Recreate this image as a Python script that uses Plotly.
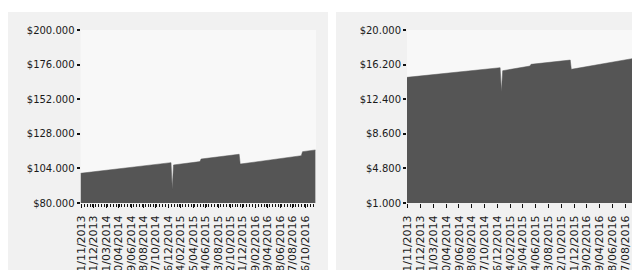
import plotly.graph_objects as go
from datetime import datetime

# ---- data ----
dates = ["2013-10-28", "2015-01-08", "2015-01-14", "2015-01-20", "2015-05-28",
         "2015-06-02", "2015-12-03", "2015-12-08", "2016-09-28", "2016-10-04",
         "2016-12-05"]
left_values = [100600, 108000, 89500, 106400, 108700, 110500, 113800, 107000,
               112800, 115600, 116800]
right_values = [14800, 15860, 13220, 15530, 16040, 16230, 16700, 15680,
                16890, 17250, 17700]

x_tick_labels = ["01/11/2013", "31/12/2013", "01/03/2014", "30/04/2014",
                 "29/06/2014", "28/08/2014", "27/10/2014", "26/12/2014",
                 "24/02/2015", "25/04/2015", "24/06/2015", "23/08/2015",
                 "22/10/2015", "21/12/2015", "19/02/2016", "19/04/2016",
                 "18/06/2016", "17/08/2016", "16/10/2016"]
left_y_ticks = [80000, 104000, 128000, 152000, 176000, 200000]
left_y_labels = ["$80.000", "$104.000", "$128.000", "$152.000", "$176.000", "$200.000"]
right_y_ticks = [1000, 4800, 8600, 12400, 16200, 20000]
right_y_labels = ["$1.000", "$4.800", "$8.600", "$12.400", "$16.200", "$20.000"]

x_tick_vals = [datetime.strptime(s, "%d/%m/%Y").strftime("%Y-%m-%d") for s in x_tick_labels]

W, H = 640, 270
OFF = 8  # page body margin
AREA = "#555555"
FONT = dict(family="DejaVu Sans", size=10, color="#1a1a1a")
XFONT = dict(family="DejaVu Sans", size=11, color="#1a1a1a")


def px_x(x):
    return (x - OFF) / W


def px_y(y):
    return (H - (y - OFF)) / H


fig = go.Figure()
fig.add_trace(go.Scatter(x=dates, y=left_values, mode="lines", fill="tozeroy",
                         line=dict(color=AREA, width=0.5), fillcolor=AREA,
                         hoverinfo="skip", xaxis="x", yaxis="y"))
fig.add_trace(go.Scatter(x=dates, y=right_values, mode="lines", fill="tozeroy",
                         line=dict(color=AREA, width=0.5), fillcolor=AREA,
                         hoverinfo="skip", xaxis="x2", yaxis="y2"))

ydom = [px_y(203), px_y(30)]
common_x = dict(type="date", tickmode="array", tickvals=x_tick_vals,
                ticktext=x_tick_labels, tickangle=-90, tickfont=XFONT,
                ticks="outside", ticklen=4, tickwidth=1, tickcolor="#111111",
                showgrid=False, zeroline=False, showline=False, fixedrange=True,
                automargin=False, ticklabelstandoff=3)
common_y = dict(tickmode="array", tickfont=FONT, ticks="outside", ticklen=3,
                tickwidth=1.5, tickcolor="#111111", showgrid=False,
                zeroline=False, showline=False, fixedrange=True,
                automargin=False)

fig.update_layout(
    width=W, height=H,
    margin=dict(l=0, r=0, t=0, b=0, autoexpand=False),
    paper_bgcolor="#ffffff",
    plot_bgcolor="#f8f8f8",
    showlegend=False,
    xaxis=dict(common_x, domain=[px_x(80.5), px_x(316)],
               range=["2013-10-28", "2016-12-08"], anchor="y",
               minor=dict(dtick=14 * 86400000, ticks="outside", ticklen=3,
                          tickcolor="#111111", tickwidth=1,
                          tick0="2013-11-01")),
    yaxis=dict(common_y, domain=ydom, range=[80000, 200000],
               tickvals=left_y_ticks, ticktext=left_y_labels, anchor="x"),
    xaxis2=dict(common_x, domain=[px_x(407), 1.0],
                range=["2013-10-28", "2016-12-02"], anchor="y2"),
    yaxis2=dict(common_y, domain=ydom, range=[1000, 20000],
                tickvals=right_y_ticks, ticktext=right_y_labels, anchor="x2"),
    shapes=[
        dict(type="rect", xref="paper", yref="paper", layer="below",
             x0=0, x1=px_x(328), y0=0, y1=px_y(12),
             fillcolor="#f1f1f1", line=dict(width=0)),
        dict(type="rect", xref="paper", yref="paper", layer="below",
             x0=px_x(336), x1=1, y0=0, y1=px_y(12),
             fillcolor="#f1f1f1", line=dict(width=0)),
        dict(type="rect", xref="paper", yref="paper", layer="below",
             x0=px_x(80.5), x1=px_x(316), y0=ydom[0], y1=ydom[1],
             fillcolor="#f8f8f8", line=dict(width=0)),
        dict(type="rect", xref="paper", yref="paper", layer="below",
             x0=px_x(407), x1=1, y0=ydom[0], y1=ydom[1],
             fillcolor="#f8f8f8", line=dict(width=0)),
    ],
)

fig.write_html("out.html", config={"displayModeBar": False})
